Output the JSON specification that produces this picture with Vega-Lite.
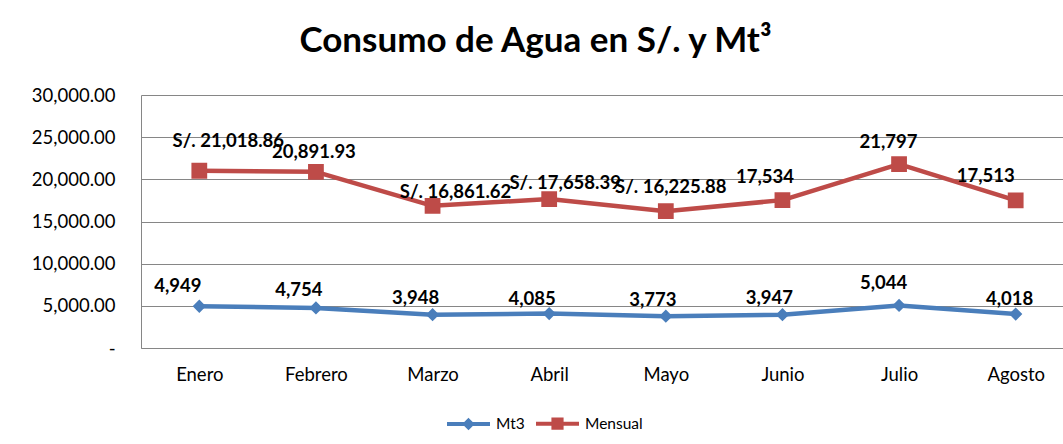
{
  "$schema": "https://vega.github.io/schema/vega-lite/v6.json",
  "autosize": {"type": "none"},
  "padding": {"left": 141, "top": 95, "right": 0, "bottom": 96},
  "width": 933,
  "height": 253,
  "background": "white",
  "title": {
    "text": "Consumo de Agua en S/. y Mt³",
    "font": "Lato",
    "fontWeight": "bold",
    "fontSize": 35,
    "color": "#000000",
    "anchor": "middle",
    "frame": "group",
    "baseline": "alphabetic",
    "dx": -72,
    "offset": -1
  },
  "config": {
    "view": {"stroke": null},
    "font": "Lato"
  },
  "data": {
    "values": [
      {"serie": "Mt3", "mes": "Enero", "valor": 4949, "etiqueta": "4,949"},
      {"serie": "Mt3", "mes": "Febrero", "valor": 4754, "etiqueta": "4,754"},
      {"serie": "Mt3", "mes": "Marzo", "valor": 3948, "etiqueta": "3,948"},
      {"serie": "Mt3", "mes": "Abril", "valor": 4085, "etiqueta": "4,085"},
      {"serie": "Mt3", "mes": "Mayo", "valor": 3773, "etiqueta": "3,773"},
      {"serie": "Mt3", "mes": "Junio", "valor": 3947, "etiqueta": "3,947"},
      {"serie": "Mt3", "mes": "Julio", "valor": 5044, "etiqueta": "5,044"},
      {"serie": "Mt3", "mes": "Agosto", "valor": 4018, "etiqueta": "4,018"},
      {"serie": "Mensual", "mes": "Enero", "valor": 21018.86, "etiqueta": "S/. 21,018.86"},
      {"serie": "Mensual", "mes": "Febrero", "valor": 20891.93, "etiqueta": "20,891.93"},
      {"serie": "Mensual", "mes": "Marzo", "valor": 16861.62, "etiqueta": "S/. 16,861.62"},
      {"serie": "Mensual", "mes": "Abril", "valor": 17658.39, "etiqueta": "S/. 17,658.39"},
      {"serie": "Mensual", "mes": "Mayo", "valor": 16225.88, "etiqueta": "S/. 16,225.88"},
      {"serie": "Mensual", "mes": "Junio", "valor": 17534, "etiqueta": "17,534"},
      {"serie": "Mensual", "mes": "Julio", "valor": 21797, "etiqueta": "21,797"},
      {"serie": "Mensual", "mes": "Agosto", "valor": 17513, "etiqueta": "17,513"}
    ]
  },
  "encoding": {
    "x": {
      "field": "mes",
      "type": "nominal",
      "sort": ["Enero", "Febrero", "Marzo", "Abril", "Mayo", "Junio", "Julio", "Agosto"],
      "scale": {"type": "point", "padding": 0.5},
      "axis": {
        "title": null,
        "labelAngle": 0,
        "labelFont": "Lato",
        "labelFontSize": 18.5,
        "labelColor": "#000000",
        "labelPadding": 17,
        "ticks": false,
        "tickSize": 0,
        "grid": false,
        "domainColor": "#868686",
        "domainWidth": 1
      }
    },
    "y": {
      "field": "valor",
      "type": "quantitative",
      "scale": {"domain": [0, 30000], "nice": false, "zero": true},
      "axis": {
        "title": null,
        "values": [0, 5000, 10000, 15000, 20000, 25000, 30000],
        "labelExpr": "datum.value === 0 ? '-' : format(datum.value, ',.2f')",
        "labelFont": "Lato",
        "labelFontSize": 18.5,
        "labelColor": "#000000",
        "labelPadding": 26,
        "ticks": false,
        "tickSize": 0,
        "grid": true,
        "gridColor": "#868686",
        "gridWidth": 1,
        "domainColor": "#868686",
        "domainWidth": 1,
        "encode": {
          "labels": {
            "update": {
              "dx": {"signal": "datum.value === 0 ? -10 : 0"}
            }
          }
        }
      }
    },
    "color": {
      "field": "serie",
      "type": "nominal",
      "scale": {"domain": ["Mt3", "Mensual"], "range": ["#4A7EBB", "#BE4B48"]}
    }
  },
  "layer": [
    {
      "mark": {"type": "line", "strokeWidth": 4.5, "strokeJoin": "round", "strokeCap": "round"},
      "encoding": {
        "detail": {"field": "serie"}
      }
    },
    {
      "mark": {"type": "point", "filled": true, "opacity": 1, "size": 6889},
      "encoding": {
        "shape": {
          "field": "serie",
          "type": "nominal",
          "scale": {
            "domain": ["Mt3", "Mensual"],
            "range": [
              "M-1,0L1,0M0,-0.16L0.16,0L0,0.16L-0.16,0Z",
              "M-1,0L1,0M-0.19,-0.19L0.19,-0.19L0.19,0.19L-0.19,0.19Z"
            ]
          },
          "legend": {
            "title": null,
            "orient": "none",
            "direction": "horizontal",
            "legendX": 304,
            "legendY": 305,
            "padding": 0,
            "symbolSize": 1849,
            "symbolStrokeWidth": 4,
            "labelFont": "Lato",
            "labelFontSize": 15.5,
            "labelColor": "#000000",
            "labelOffset": 4,
            "columnPadding": 3,
            "encode": {
              "symbols": {
                "update": {
                  "stroke": {"scale": "color", "field": "value"},
                  "strokeWidth": {"value": 4}
                }
              }
            }
          }
        },
        "color": {
          "field": "serie",
          "type": "nominal",
          "scale": {"domain": ["Mt3", "Mensual"], "range": ["#4F81BD", "#C0504D"]},
          "legend": {
            "title": null,
            "orient": "none",
            "direction": "horizontal",
            "legendX": 304,
            "legendY": 305,
            "padding": 0,
            "symbolSize": 1849,
            "labelFont": "Lato",
            "labelFontSize": 15.5,
            "labelColor": "#000000",
            "labelOffset": 4,
            "columnPadding": 3
          }
        }
      }
    },
    {
      "transform": [{"filter": "datum.serie === 'Mensual'"}],
      "mark": {
        "type": "text",
        "font": "Lato",
        "fontWeight": "bold",
        "fontSize": 18.5,
        "color": "#000000",
        "baseline": "middle",
        "align": "center",
        "dx": {"expr": "[29,-2,23,16,5,-17.5,-10.5,-30][indexof(['Enero','Febrero','Marzo','Abril','Mayo','Junio','Julio','Agosto'], datum.mes)]"},
        "dy": {"expr": "[-30,-20,-14,-16,-24,-23.5,-22.5,-24][indexof(['Enero','Febrero','Marzo','Abril','Mayo','Junio','Julio','Agosto'], datum.mes)]"}
      },
      "encoding": {
        "text": {"field": "etiqueta"},
        "color": {"value": "#000000"}
      }
    },
    {
      "transform": [{"filter": "datum.serie === 'Mt3'"}],
      "mark": {
        "type": "text",
        "font": "Lato",
        "fontWeight": "bold",
        "fontSize": 18.5,
        "color": "#000000",
        "baseline": "middle",
        "align": "center",
        "dx": {"expr": "[-21.5,-17,-17,-17,-13,-13,-15.5,-6][indexof(['Enero','Febrero','Marzo','Abril','Mayo','Junio','Julio','Agosto'], datum.mes)]"},
        "dy": {"expr": "[-20,-18,-16.5,-15,-16,-17,-22,-15][indexof(['Enero','Febrero','Marzo','Abril','Mayo','Junio','Julio','Agosto'], datum.mes)]"}
      },
      "encoding": {
        "text": {"field": "etiqueta"},
        "color": {"value": "#000000"}
      }
    }
  ]
}
